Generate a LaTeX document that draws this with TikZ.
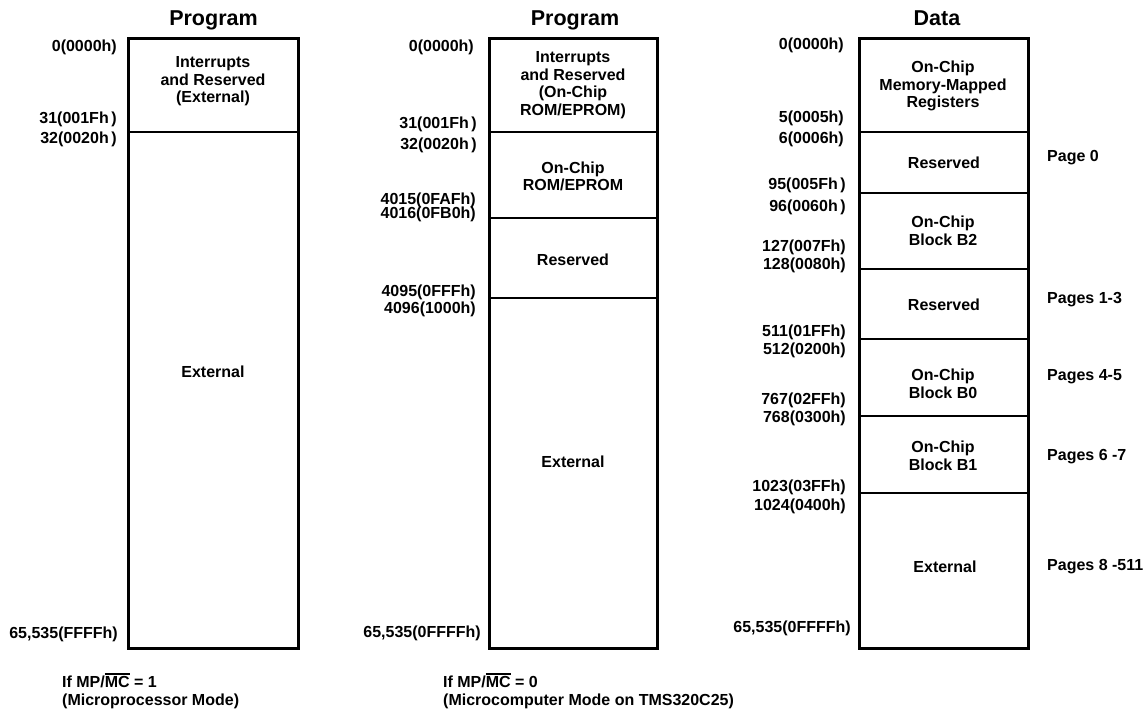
\documentclass[tikz,border=0pt]{standalone}
\usepackage{fontspec}
\setmainfont{Liberation Sans}
\newcommand\myoverline[1]{\leavevmode\vbox{\hrule height 1.6pt\kern 1.6pt\hbox{#1}}}
\tikzset{
  ttl/.style={font=\fontsize{21.5}{25}\selectfont\bfseries, anchor=base, inner sep=0pt},
  lbl/.style={font=\fontsize{16}{17.6}\selectfont\bfseries, anchor=east, inner sep=0pt},
  pg/.style={font=\fontsize{16}{17.6}\selectfont\bfseries, anchor=west, inner sep=0pt},
  body/.style={font=\fontsize{16}{17.6}\selectfont\bfseries, align=center, inner sep=0pt},
  note/.style={font=\fontsize{16}{17.6}\selectfont\bfseries, align=left, anchor=west, inner sep=0pt},
  outer/.style={line width=3pt, line join=miter},
  divider/.style={line width=2pt}
}
\begin{document}
\begin{tikzpicture}[x=1pt,y=-1pt]
\useasboundingbox (0,0) rectangle (1148,710);

% ---------- Column 1 ----------
\node[ttl] (t1) at (213.5,25) {Program};
\draw[outer] (128,38) rectangle (298,648);
\draw[divider] (128,132) -- (298,132);
\node[body] (c1a) at (213,81.5) {Interrupts\\and Reserved\\(External)};
\node[body] (c1b) at (213,372) {External};
\node[lbl] (l1a) at (117,47) {0(0000h)};
\node[lbl] (l1b) at (117,119) {31(001Fh\,)};
\node[lbl] (l1c) at (117,139) {32(0020h\,)};
\node[lbl] (l1d) at (118,634) {65,535(FFFFh)};
\node[note] (n1) at (62,691) {If MP/\myoverline{MC} = 1\\(Microprocessor Mode)};

% ---------- Column 2 ----------
\node[ttl] (t2) at (575,25) {Program};
\draw[outer] (489,38) rectangle (657,648);
\draw[divider] (489,132) -- (657,132);
\draw[divider] (489,218) -- (657,218);
\draw[divider] (489,298) -- (657,298);
\node[body] (c2a) at (573,85) {Interrupts\\and Reserved\\(On-Chip\\ROM/EPROM)};
\node[body] (c2b) at (573,176.5) {On-Chip\\ROM/EPROM};
\node[body] (c2c) at (573,260) {Reserved};
\node[body] (c2d) at (573,462) {External};
\node[lbl] (l2a) at (474,47) {0(0000h)};
\node[lbl] (l2b) at (477,124) {31(001Fh\,)};
\node[lbl] (l2c) at (477,145) {32(0020h\,)};
\node[lbl] (l2d) at (476,200) {4015(0FAFh)};
\node[lbl] (l2e) at (476,214) {4016(0FB0h)};
\node[lbl] (l2f) at (476,292) {4095(0FFFh)};
\node[lbl] (l2g) at (476,309) {4096(1000h)};
\node[lbl] (l2h) at (481,633) {65,535(0FFFFh)};
\node[note] (n2) at (443,691) {If MP/\myoverline{MC} = 0\\(Microcomputer Mode on TMS320C25)};

% ---------- Column 3 ----------
\node[ttl] (t3) at (937,25) {Data};
\draw[outer] (859,38) rectangle (1028,648);
\draw[divider] (859,132) -- (1028,132);
\draw[divider] (859,193) -- (1028,193);
\draw[divider] (859,269) -- (1028,269);
\draw[divider] (859,339) -- (1028,339);
\draw[divider] (859,416) -- (1028,416);
\draw[divider] (859,493) -- (1028,493);
\node[body] (c3a) at (943,86) {On-Chip\\Memory-Mapped\\Registers};
\node[body] (c3b) at (944,163) {Reserved};
\node[body] (c3c) at (943,230.5) {On-Chip\\Block B2};
\node[body] (c3d) at (944,305) {Reserved};
\node[body] (c3e) at (943,384) {On-Chip\\Block B0};
\node[body] (c3f) at (943,455.5) {On-Chip\\Block B1};
\node[body] (c3g) at (945,567) {External};
\node[lbl] (l3a) at (844,45) {0(0000h)};
\node[lbl] (l3b) at (844,118) {5(0005h)};
\node[lbl] (l3c) at (844,139) {6(0006h)};
\node[lbl] (l3d) at (846,185) {95(005Fh\,)};
\node[lbl] (l3e) at (846,207) {96(0060h\,)};
\node[lbl] (l3f) at (846,247) {127(007Fh)};
\node[lbl] (l3g) at (846,265) {128(0080h)};
\node[lbl] (l3h) at (846,332) {511(01FFh)};
\node[lbl] (l3i) at (846,350) {512(0200h)};
\node[lbl] (l3j) at (846,400) {767(02FFh)};
\node[lbl] (l3k) at (846,418) {768(0300h)};
\node[lbl] (l3l) at (846,487) {1023(03FFh)};
\node[lbl] (l3m) at (846,506) {1024(0400h)};
\node[lbl] (l3n) at (851,628) {65,535(0FFFFh)};
\node[pg] (p0) at (1047,158) {Page 0};
\node[pg] (p1) at (1047,300) {Pages 1-3};
\node[pg] (p4) at (1047,377) {Pages 4-5};
\node[pg] (p6) at (1047,457) {Pages 6 -7};
\node[pg] (p8) at (1047,567) {Pages 8 -511};
\end{tikzpicture}
\end{document}
